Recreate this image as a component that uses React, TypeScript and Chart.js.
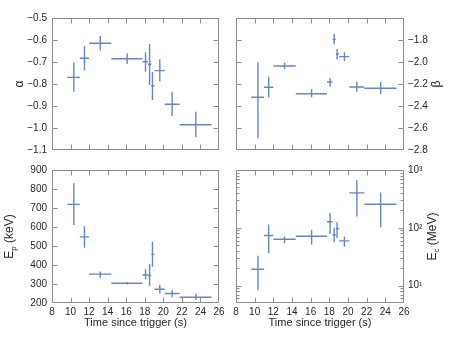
import React, { useEffect, useRef } from "react";
import { Chart, registerables } from "chart.js";

Chart.register(...registerables);

// ---- data ----
const timeMid = [10.35, 11.5, 13.2, 16.1, 18.08, 18.52, 18.83, 19.62, 20.95, 23.5];
const timeLo = [9.64, 11.0, 12.0, 14.4, 17.75, 18.35, 18.7, 19.05, 20.15, 21.75];
const timeHi = [11.0, 12.0, 14.4, 17.75, 18.35, 18.7, 19.05, 20.15, 21.75, 25.2];

const alphaVal = [-0.77, -0.683, -0.615, -0.685, -0.699, -0.71, -0.808, -0.739, -0.892, -0.985];
const alphaLo = [-0.835, -0.739, -0.648, -0.709, -0.744, -0.805, -0.873, -0.789, -0.945, -1.042];
const alphaHi = [-0.702, -0.627, -0.582, -0.661, -0.656, -0.618, -0.744, -0.688, -0.835, -0.926];

const betaVal = [-2.321, -2.23, -2.036, -2.288, -2.182, -1.794, -1.927, -1.951, -2.227, -2.239];
const betaLo = [-2.694, -2.321, -2.067, -2.321, -2.224, -1.839, -1.975, -1.991, -2.27, -2.291];
const betaHi = [-2.003, -2.133, -2.006, -2.248, -2.145, -1.745, -1.882, -1.912, -2.179, -2.179];

const epVal = [719, 548, 352, 304, 347, 345, 456, 272, 250, 230];
const epLo = [610, 491, 333, 297, 325, 289, 391, 251, 230, 216];
const epHi = [830, 604, 366, 311, 377, 405, 523, 295, 269, 247];

const ecVal = [19.2, 73.5, 63.2, 71.3, 127, 75, 96, 59.3, 402, 255];
const ecLo = [8.3, 36.6, 53.8, 51.2, 78.5, 56, 66.8, 47.2, 157, 102];
const ecHi = [32.9, 114, 70.5, 92.3, 183, 100, 125, 70.5, 668, 408];

// ---- tick labels ----
const timeTicks = [8, 10, 12, 14, 16, 18, 20, 22, 24, 26];
const alphaTicks = [-1.1, -1.0, -0.9, -0.8, -0.7, -0.6, -0.5];
const betaTicks = [-2.8, -2.6, -2.4, -2.2, -2.0, -1.8];
const epTicks = [200, 300, 400, 500, 600, 700, 800, 900];
const ecTicks = [10, 100, 1000];
const ecTickLabels = ["10\u00B9", "10\u00B2", "10\u00B3"];
const ecMinor = [5, 6, 7, 8, 9, 20, 30, 40, 50, 60, 70, 80, 90, 200, 300, 400, 500, 600, 700, 800, 900];

const W = 457;
const H = 343;
const FONT = "'Liberation Sans', Arial, sans-serif";
const TEXT = "#262626";
const FRAME = "#8c8c8c";
const BAR = "rgba(76,114,176,0.85)";

type Pt = { x: number; y: number | null };
type Area = { left: number; right: number; top: number; bottom: number };
type TitleDef = {
  parts: { t: string; sub?: boolean }[];
  x: (a: Area) => number;
  y: (a: Area) => number;
  rot: boolean;
  size: number;
};
type PanelDef = {
  area: { l: number; t: number; r: number; b: number };
  yPos: "left" | "right";
  yType: "linear" | "logarithmic";
  yMin: number;
  yMax: number;
  yTicks: number[];
  yLabel: (v: number) => string;
  xLabels: boolean;
  minor?: number[];
  data: Pt[];
  titles: TitleDef[];
};

function crossPoints(xm: number[], xl: number[], xh: number[], ym: number[], yl: number[], yh: number[]): Pt[] {
  const pts: Pt[] = [];
  for (let i = 0; i < xm.length; i++) {
    pts.push({ x: xl[i], y: ym[i] }, { x: xh[i], y: ym[i] }, { x: xm[i], y: null });
    pts.push({ x: xm[i], y: yl[i] }, { x: xm[i], y: yh[i] }, { x: xm[i], y: null });
  }
  return pts;
}

const fmt1 = (v: number) => v.toFixed(1).replace("-", "\u2212");

const timeTitle: TitleDef = {
  parts: [{ t: "Time since trigger (s)" }],
  x: (a) => (a.left + a.right) / 2,
  y: (a) => a.bottom + 20,
  rot: false,
  size: 11,
};
const midY = (a: Area) => (a.top + a.bottom) / 2;

const panels: PanelDef[] = [
  {
    area: { l: 52, t: 18, r: 219, b: 150 },
    yPos: "left",
    yType: "linear",
    yMin: -1.1,
    yMax: -0.5,
    yTicks: alphaTicks,
    yLabel: fmt1,
    xLabels: false,
    data: crossPoints(timeMid, timeLo, timeHi, alphaVal, alphaLo, alphaHi),
    titles: [{ parts: [{ t: "\u03B1" }], x: (a) => a.left - 32.5, y: midY, rot: true, size: 12 }],
  },
  {
    area: { l: 236, t: 18, r: 404, b: 150 },
    yPos: "right",
    yType: "linear",
    yMin: -2.8,
    yMax: -1.6,
    yTicks: betaTicks,
    yLabel: fmt1,
    xLabels: false,
    data: crossPoints(timeMid, timeLo, timeHi, betaVal, betaLo, betaHi),
    titles: [{ parts: [{ t: "\u03B2" }], x: (a) => a.right + 33, y: midY, rot: true, size: 12 }],
  },
  {
    area: { l: 52, t: 170, r: 219, b: 303 },
    yPos: "left",
    yType: "linear",
    yMin: 200,
    yMax: 900,
    yTicks: epTicks,
    yLabel: (v) => String(v),
    xLabels: true,
    data: crossPoints(timeMid, timeLo, timeHi, epVal, epLo, epHi),
    titles: [
      { parts: [{ t: "E" }, { t: "p", sub: true }, { t: " (keV)" }], x: (a) => a.left - 42, y: midY, rot: true, size: 12 },
      timeTitle,
    ],
  },
  {
    area: { l: 236, t: 170, r: 404, b: 303 },
    yPos: "right",
    yType: "logarithmic",
    yMin: 5,
    yMax: 1000,
    yTicks: ecTicks,
    yLabel: (v) => {
      const i = ecTicks.indexOf(v);
      return i >= 0 ? ecTickLabels[i] : "";
    },
    xLabels: true,
    minor: ecMinor,
    data: crossPoints(timeMid, timeLo, timeHi, ecVal, ecLo, ecHi),
    titles: [
      { parts: [{ t: "E" }, { t: "c", sub: true }, { t: " (MeV)" }], x: (a) => a.right + 29, y: midY, rot: true, size: 12 },
      timeTitle,
    ],
  },
];

function decorPlugin(p: PanelDef) {
  return {
    id: "decor",
    afterDraw(chart: any) {
      const ctx: CanvasRenderingContext2D = chart.ctx;
      const a: Area = chart.chartArea;
      const xs = chart.scales.x;
      const ys = chart.scales.y;
      const L = Math.round(a.left) + 0.5;
      const R = Math.round(a.right) - 0.5;
      const T = Math.round(a.top) + 0.5;
      const B = Math.round(a.bottom) - 0.5;
      ctx.save();
      ctx.strokeStyle = FRAME;
      ctx.lineWidth = 1;
      ctx.beginPath();
      const major = 5;
      const minorLen = 3;
      for (const v of timeTicks) {
        if (v <= xs.min || v >= xs.max) continue;
        const px = Math.round(xs.getPixelForValue(v)) + 0.5;
        ctx.moveTo(px, T);
        ctx.lineTo(px, T + major);
        ctx.moveTo(px, B);
        ctx.lineTo(px, B - major);
      }
      for (const v of p.yTicks) {
        if (v <= p.yMin || v >= p.yMax) continue;
        const py = Math.round(ys.getPixelForValue(v)) + 0.5;
        ctx.moveTo(L, py);
        ctx.lineTo(L + major, py);
        ctx.moveTo(R, py);
        ctx.lineTo(R - major, py);
      }
      for (const v of p.minor || []) {
        if (v <= p.yMin || v >= p.yMax) continue;
        const py = Math.round(ys.getPixelForValue(v)) + 0.5;
        ctx.moveTo(L, py);
        ctx.lineTo(L + minorLen, py);
        ctx.moveTo(R, py);
        ctx.lineTo(R - minorLen, py);
      }
      ctx.stroke();
      ctx.strokeRect(L, T, R - L, B - T);

      for (const t of p.titles) {
        const cx = t.x(a);
        const cy = t.y(a);
        ctx.save();
        ctx.translate(cx, cy);
        if (t.rot) ctx.rotate(-Math.PI / 2);
        const mainF = `${t.size}px ${FONT}`;
        const subF = `${Math.round(t.size * 0.7)}px ${FONT}`;
        let w = 0;
        for (const part of t.parts) {
          ctx.font = part.sub ? subF : mainF;
          w += ctx.measureText(part.t).width;
        }
        let x = -w / 2;
        ctx.textBaseline = "middle";
        ctx.textAlign = "left";
        ctx.fillStyle = TEXT;
        for (const part of t.parts) {
          ctx.font = part.sub ? subF : mainF;
          ctx.fillText(part.t, x, part.sub ? t.size * 0.3 : 0);
          x += ctx.measureText(part.t).width;
        }
        ctx.restore();
      }
      ctx.restore();
    },
  };
}

function PanelChart({ def }: { def: PanelDef }) {
  const ref = useRef<HTMLCanvasElement>(null);
  useEffect(() => {
    const c = ref.current;
    if (!c) return;
    const yW = 40;
    const xH = def.xLabels ? 20 : 0;
    const a = def.area;
    const padding = {
      left: def.yPos === "left" ? a.l - yW : a.l,
      right: def.yPos === "right" ? W - a.r - yW : W - a.r,
      top: a.t,
      bottom: H - a.b - xH,
    };
    const chart = new Chart(c, {
      type: "line",
      data: {
        datasets: [
          {
            data: def.data as any,
            borderColor: BAR,
            borderWidth: 1.4,
            pointRadius: 0,
            fill: false,
            tension: 0,
            spanGaps: false,
          },
        ],
      },
      options: {
        animation: false,
        responsive: false,
        devicePixelRatio: 1,
        events: [],
        layout: { padding },
        plugins: { legend: { display: false }, tooltip: { enabled: false } },
        scales: {
          x: {
            type: "linear",
            position: "bottom",
            min: 8,
            max: 26,
            afterBuildTicks: (s: any) => {
              s.ticks = timeTicks.map((v) => ({ value: v }));
            },
            afterFit: (s: any) => {
              s.height = xH;
              s.paddingLeft = 0;
              s.paddingRight = 0;
              s.paddingTop = 0;
              s.paddingBottom = 0;
            },
            grid: { display: false, drawTicks: false },
            border: { display: false },
            ticks: {
              display: def.xLabels,
              padding: 3,
              color: TEXT,
              font: { family: FONT, size: 10 },
              maxRotation: 0,
              autoSkip: false,
              callback: (v: any) => String(v),
            },
          },
          y: {
            type: def.yType,
            position: def.yPos,
            min: def.yMin,
            max: def.yMax,
            afterBuildTicks: (s: any) => {
              s.ticks = def.yTicks.map((v) => ({ value: v }));
            },
            afterFit: (s: any) => {
              s.width = yW;
              s.paddingTop = 0;
              s.paddingBottom = 0;
              s.paddingLeft = 0;
              s.paddingRight = 0;
            },
            grid: { display: false, drawTicks: false },
            border: { display: false },
            ticks: {
              padding: def.yPos === "left" ? 5 : 4,
              color: TEXT,
              font: { family: FONT, size: 10 },
              autoSkip: false,
              callback: (v: any) => def.yLabel(Number(v)),
            },
          } as any,
        },
      },
      plugins: [decorPlugin(def)],
    });
    return () => chart.destroy();
  }, [def]);
  return (
    <canvas
      ref={ref}
      width={W}
      height={H}
      style={{ position: "absolute", left: 0, top: 0, width: W, height: H }}
    />
  );
}

export default function App() {
  return (
    <div style={{ position: "fixed", left: 0, top: 0, width: W, height: H, background: "#fff" }}>
      {panels.map((p, i) => (
        <PanelChart key={i} def={p} />
      ))}
    </div>
  );
}
